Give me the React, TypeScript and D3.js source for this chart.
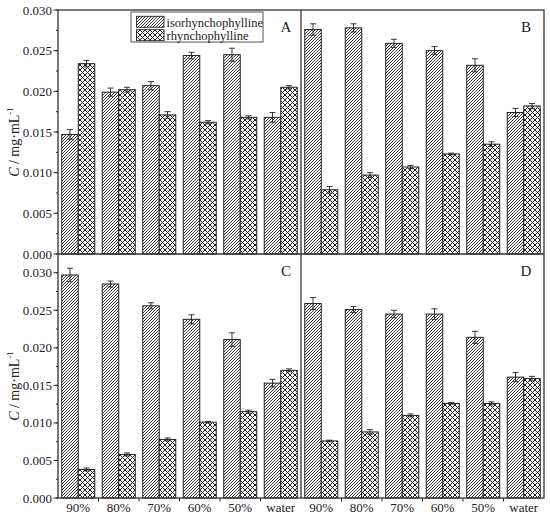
import * as d3 from "d3";

const categories = ["90%", "80%", "70%", "60%", "50%", "water"];
const seriesNames = ["isorhynchophylline", "rhynchophylline"];

// panel A
const isoA = [0.0147, 0.0199, 0.0207, 0.0244, 0.0245, 0.0168];
const isoErrA = [0.0006, 0.0005, 0.0005, 0.0004, 0.0008, 0.0006];
const rhyA = [0.0234, 0.0202, 0.0171, 0.0162, 0.0168, 0.0205];
const rhyErrA = [0.0004, 0.0003, 0.0004, 0.0002, 0.0002, 0.0002];

// panel B
const isoB = [0.0276, 0.0278, 0.0259, 0.025, 0.0232, 0.0174];
const isoErrB = [0.0007, 0.0005, 0.0005, 0.0005, 0.0008, 0.0005];
const rhyB = [0.0079, 0.0097, 0.0107, 0.0123, 0.0135, 0.0182];
const rhyErrB = [0.0004, 0.0003, 0.0002, 0.0001, 0.0003, 0.0003];

// panel C
const isoC = [0.0297, 0.0285, 0.0256, 0.0238, 0.0211, 0.0153];
const isoErrC = [0.0009, 0.0004, 0.0004, 0.0006, 0.0009, 0.0005];
const rhyC = [0.0038, 0.0058, 0.0078, 0.0101, 0.0115, 0.017];
const rhyErrC = [0.0002, 0.0002, 0.0002, 0.0001, 0.0002, 0.0002];

// panel D
const isoD = [0.0259, 0.0251, 0.0245, 0.0245, 0.0214, 0.0161];
const isoErrD = [0.0008, 0.0004, 0.0005, 0.0007, 0.0008, 0.0006];
const rhyD = [0.0076, 0.0088, 0.011, 0.0126, 0.0126, 0.0159];
const rhyErrD = [0.0001, 0.0003, 0.0002, 0.0001, 0.0002, 0.0003];

const yTicks = [0, 0.005, 0.01, 0.015, 0.02, 0.025, 0.03];

const FONT = "Liberation Serif, Times New Roman, serif";
const fontStyle = { fontFamily: FONT };

const left = 58;
const mid = 301;
const right = 544;
const top = 10;
const split = 254;
const bottom = 498;

const panels = [
    { label: "A", iso: isoA, isoErr: isoErrA, rhy: rhyA, rhyErr: rhyErrA, x0: left, x1: mid, y0: top, y1: split, max: 0.03 },
    { label: "B", iso: isoB, isoErr: isoErrB, rhy: rhyB, rhyErr: rhyErrB, x0: mid, x1: right, y0: top, y1: split, max: 0.03 },
    { label: "C", iso: isoC, isoErr: isoErrC, rhy: rhyC, rhyErr: rhyErrC, x0: left, x1: mid, y0: split, y1: bottom, max: 0.0325 },
    { label: "D", iso: isoD, isoErr: isoErrD, rhy: rhyD, rhyErr: rhyErrD, x0: mid, x1: right, y0: split, y1: bottom, max: 0.0325 },
];

function Panel({ p, idx }: { p: (typeof panels)[number]; idx: number }) {
    const x = d3.scaleBand<string>().domain(categories).range([p.x0, p.x1]).paddingInner(0.185).paddingOuter(0.0925);
    const sub = d3.scaleBand<number>().domain([0, 1]).range([0, x.bandwidth()]);
    const y = d3.scaleLinear().domain([0, p.max]).range([p.y1, p.y0]);
    const isLeft = idx % 2 === 0;
    const isBottom = idx >= 2;
    const minor = d3.range(0, 0.0301, 0.0025);

    const series = [
        { v: p.iso, e: p.isoErr, fill: "url(#hatch)" },
        { v: p.rhy, e: p.rhyErr, fill: "url(#cross)" },
    ];

    return (
        <g>
            {series.map((s, si) =>
                categories.map((c, i) => {
                    const bx = (x(c) ?? 0) + (sub(si) ?? 0);
                    const bw = sub.bandwidth();
                    const cx = bx + bw / 2;
                    return (
                        <g key={`${si}-${c}`}>
                            <rect x={bx} y={y(s.v[i])} width={bw} height={y(0) - y(s.v[i])}
                                fill={s.fill} stroke="#222" strokeWidth={1} />
                            <line x1={cx} x2={cx} y1={y(s.v[i] - s.e[i])} y2={y(s.v[i] + s.e[i])} stroke="#222" strokeWidth={0.9} />
                            <line x1={cx - 3} x2={cx + 3} y1={y(s.v[i] + s.e[i])} y2={y(s.v[i] + s.e[i])} stroke="#222" strokeWidth={0.9} />
                            <line x1={cx - 3} x2={cx + 3} y1={y(s.v[i] - s.e[i])} y2={y(s.v[i] - s.e[i])} stroke="#222" strokeWidth={0.9} />
                        </g>
                    );
                })
            )}

            {isLeft && (
                <g style={fontStyle} fontSize={13} fill="#222">
                    {minor.map(t => (
                        <line key={t} x1={left - 2} x2={left} y1={y(t)} y2={y(t)} stroke="#222" strokeWidth={1} />
                    ))}
                    {yTicks.map(t => (
                        <g key={t}>
                            <line x1={left - 4.5} x2={left} y1={y(t)} y2={y(t)} stroke="#222" strokeWidth={1} />
                            <text x={left - 6} y={y(t)} dy="0.35em" textAnchor="end">{d3.format(".3f")(t)}</text>
                        </g>
                    ))}
                    <text transform={`translate(19,${(p.y0 + p.y1) / 2 + 10}) rotate(-90)`} textAnchor="middle" fontSize={14}>
                        <tspan fontStyle="italic">C</tspan>
                        <tspan> / mg·mL</tspan>
                        <tspan fontSize={9} dy={-6}>-1</tspan>
                    </text>
                </g>
            )}

            {isBottom && (
                <g style={fontStyle} fontSize={13} fill="#222">
                    {categories.map((c, i) => (
                        <g key={c}>
                            {i > 0 && (
                                <line x1={x(c)! - (x.step() - x.bandwidth()) / 2} x2={x(c)! - (x.step() - x.bandwidth()) / 2}
                                    y1={bottom} y2={bottom + 3.5} stroke="#222" strokeWidth={1} />
                            )}
                            <text x={x(c)! + x.bandwidth() / 2} y={bottom + 14} textAnchor="middle">{c}</text>
                        </g>
                    ))}
                </g>
            )}

            <text x={isLeft ? p.x1 - 15 : p.x1 - 18} y={p.y0 + 22} style={fontStyle} fontSize={15} fill="#222" textAnchor="middle">
                {p.label}
            </text>
        </g>
    );
}

export default function App() {
    return (
        <svg width={550} height={522} style={{ position: "absolute", left: 0, top: 0, background: "#fff" }}>
            <defs>
                <pattern id="hatch" patternUnits="userSpaceOnUse" width={3} height={3}>
                    <rect width={3} height={3} fill="#fff" />
                    <path d="M-1,1 l2,-2 M0,3 l3,-3 M2,4 l2,-2" stroke="#222" strokeWidth={0.9} />
                </pattern>
                <pattern id="cross" patternUnits="userSpaceOnUse" width={5} height={5}>
                    <rect width={5} height={5} fill="#fff" />
                    <path d="M0,0 L5,5 M5,0 L0,5" stroke="#222" strokeWidth={1} />
                </pattern>
            </defs>

            {panels.map((p, i) => (
                <Panel key={p.label} p={p} idx={i} />
            ))}

            {/* frame and dividers */}
            <rect x={left} y={top} width={right - left} height={bottom - top} fill="none" stroke="#333" strokeWidth={1.3} />
            <line x1={mid} x2={mid} y1={top} y2={bottom} stroke="#333" strokeWidth={1.3} />
            <line x1={left} x2={right} y1={split} y2={split} stroke="#333" strokeWidth={1.3} />

            {/* legend */}
            <g style={fontStyle} fontSize={12.5} fill="#222">
                <rect x={131} y={12} width={132} height={30} fill="#fff" stroke="#555" strokeWidth={1} />
                {seriesNames.map((n, i) => (
                    <g key={n}>
                        <rect x={136.5} y={16.3 + i * 13.4} width={27.5} height={11} fill={i === 0 ? "url(#hatch)" : "url(#cross)"} stroke="#222" strokeWidth={0.9} />
                        <text x={166.5} y={26.5 + i * 13.4}>{n}</text>
                    </g>
                ))}
            </g>
        </svg>
    );
}
